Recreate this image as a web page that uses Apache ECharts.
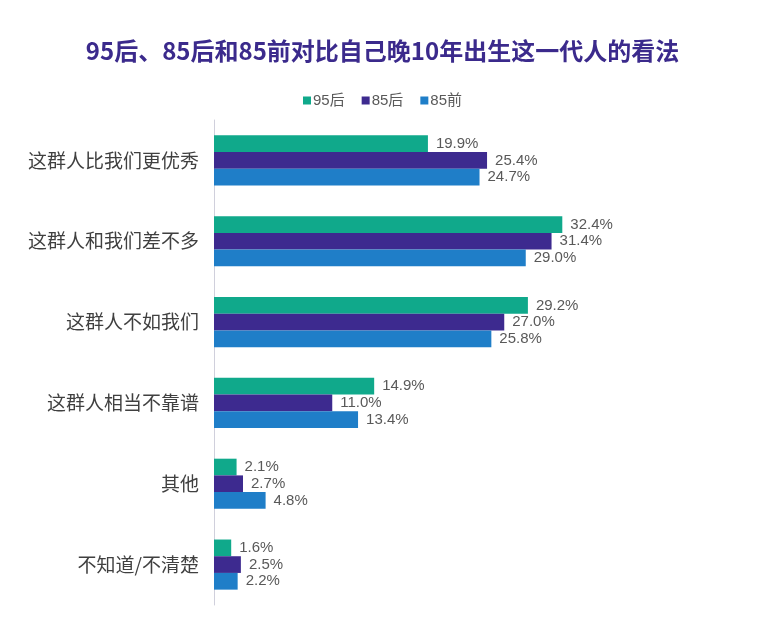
<!DOCTYPE html>
<html><head><meta charset="utf-8">
<script src="https://cdn.jsdelivr.net/npm/echarts@6/dist/echarts.min.js"></script>
<style>html,body{margin:0;padding:0;background:#fff}#c{width:765px;height:634px}</style>
</head><body><div id="c"></div>
<script>
const categories = ['这群人比我们更优秀','这群人和我们差不多','这群人不如我们','这群人相当不靠谱','其他','不知道/不清楚'];
const seriesNames = ['95后','85后','85前'];
const v95h = [19.9, 32.4, 29.2, 14.9, 2.1, 1.6];
const v85h = [25.4, 31.4, 27.0, 11.0, 2.7, 2.5];
const v85q = [24.7, 29.0, 25.8, 13.4, 4.8, 2.2];
const colors = ['#10a98b','#3d2a8f','#1f7ec8'];

const chart = echarts.init(document.getElementById('c'), null, {renderer:'canvas'});
const mk = (name, data, color) => ({
  name, type:'bar', data, barGap:'0%', barCategoryGap:'38%',
  itemStyle:{color},
  label:{show:true, position:'right', distance:8, formatter: p => p.value.toFixed(1)+'%',
         color:'#595959', fontSize:15, fontFamily:'Liberation Sans, Arial, sans-serif'}
});
chart.setOption({
  animation:false,
  backgroundColor:'#fff',
  title:{text:'95后、85后和85前对比自己晚10年出生这一代人的看法', left:'center', top:34,
    textStyle:{fontSize:24, fontWeight:'bold', color:'#3b2a8c', fontFamily:'Noto Sans CJK SC, sans-serif'}},
  legend:{data:seriesNames, top:88, left:'center', itemWidth:8, itemHeight:8, itemGap:17, icon:'rect',
    textStyle:{fontSize:15, color:'#595959', padding:[0,0,0,-3], fontFamily:'Liberation Sans, Noto Sans CJK SC, sans-serif'}},
  grid:{left:214, top:120, width:430, height:485, containLabel:false},
  xAxis:{type:'value', min:0, max:40, show:false},
  yAxis:{type:'category', data:categories, inverse:true,
    axisLine:{show:true, lineStyle:{color:'#d0d0dc', width:1}},
    axisTick:{show:false},
    axisLabel:{fontSize:19, color:'#404040', margin:15, fontFamily:'Noto Sans CJK SC, sans-serif'}},
  series:[mk(seriesNames[0], v95h, colors[0]), mk(seriesNames[1], v85h, colors[1]), mk(seriesNames[2], v85q, colors[2])]
});
</script></body></html>
